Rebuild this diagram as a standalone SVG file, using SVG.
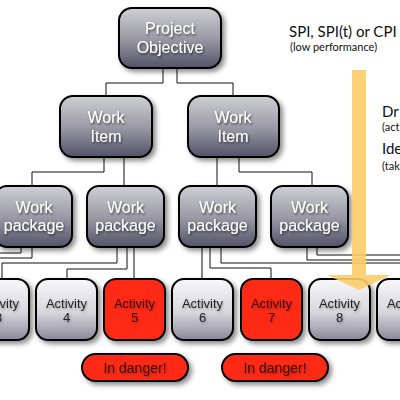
<svg xmlns="http://www.w3.org/2000/svg" width="400" height="400" viewBox="0 0 400 400">
<defs>
<linearGradient id="gDark" x1="0" y1="0" x2="0" y2="1">
<stop offset="0" stop-color="#cfcfd5"/>
<stop offset="0.5" stop-color="#9c9ba6"/>
<stop offset="1" stop-color="#545268"/>
</linearGradient>
<linearGradient id="gLight" x1="0" y1="0" x2="0" y2="1">
<stop offset="0" stop-color="#f8f8fa"/>
<stop offset="0.55" stop-color="#d6d6dc"/>
<stop offset="1" stop-color="#8a8898"/>
</linearGradient>
<filter id="sh" x="-20%" y="-20%" width="150%" height="150%">
<feDropShadow dx="3" dy="3" stdDeviation="2.5" flood-color="#000" flood-opacity="0.45"/>
</filter>
<filter id="tsh" x="-20%" y="-20%" width="140%" height="160%">
<feDropShadow dx="1" dy="1.5" stdDeviation="1" flood-color="#000" flood-opacity="0.6"/>
</filter>
<filter id="tshl" x="-20%" y="-20%" width="140%" height="160%">
<feDropShadow dx="1" dy="1.5" stdDeviation="1" flood-color="#000" flood-opacity="0.3"/>
</filter>
</defs>
<style>
.dark{fill:url(#gDark);stroke:#000;stroke-width:2;filter:url(#sh)}
.light{fill:url(#gLight);stroke:#000;stroke-width:2;filter:url(#sh)}
.red{fill:#ff2b16;stroke:#000;stroke-width:2;filter:url(#sh)}
.wt{font-family:"Liberation Sans",Arial,sans-serif;font-size:16px;fill:#fff;text-anchor:middle;filter:url(#tsh)}
.at{font-family:"Liberation Sans",Arial,sans-serif;font-size:13px;fill:#222;text-anchor:middle;filter:url(#tshl)}
.rt{font-family:"Liberation Sans",Arial,sans-serif;font-size:13px;fill:#3a0a05;text-anchor:middle;filter:url(#tshl)}
.dt{font-family:"Liberation Sans",Arial,sans-serif;font-size:14px;fill:#3a0a05;text-anchor:middle;filter:url(#tshl)}
.big{font-family:Lato,"Open Sans",sans-serif;font-size:15px;fill:#111}
.small{font-family:Lato,"Open Sans",sans-serif;font-size:11px;fill:#111}
.con{fill:none;stroke:#111;stroke-width:1}
</style>
<rect width="400" height="400" fill="#fff"/>
<g id="connectors" class="con">
<path d="M163,68V83H106V96"/>
<path d="M177,68V83H233V96"/>
<path d="M104,157V172H32V186"/>
<path d="M124,157V186"/>
<path d="M217,157V186"/>
<path d="M239,157V172H312V186"/>
<path d="M21,247V253H-10"/>
<path d="M32,247V258H-10"/>
<path d="M117,247V263H2V279"/>
<path d="M127,247V269H67V279"/>
<path d="M134,247V279"/>
<path d="M202,247V279"/>
<path d="M210,247V268H271V279"/>
<path d="M221,247V263H410"/>
<path d="M307,247V260H410"/>
<path d="M317,247V255H410"/>
</g>
<g id="project-objective">
<rect class="dark" x="119" y="8" width="102" height="60" rx="13"/>
<text class="wt" x="170" y="34">Project</text>
<text class="wt" x="170" y="53">Objective</text>
</g>
<g id="work-item-1">
<rect class="dark" x="60" y="96" width="92" height="61" rx="13"/>
<text class="wt" x="106" y="123">Work</text>
<text class="wt" x="106" y="142">Item</text>
</g>
<g id="work-item-2">
<rect class="dark" x="188" y="96" width="91" height="61" rx="13"/>
<text class="wt" x="233" y="123">Work</text>
<text class="wt" x="233" y="142">Item</text>
</g>
<g id="work-package-1">
<rect class="dark" x="-5" y="186" width="77" height="61" rx="12"/>
<text class="wt" x="34" y="213">Work</text>
<text class="wt" x="34" y="231">package</text>
</g>
<g id="work-package-2">
<rect class="dark" x="87" y="186" width="77" height="61" rx="12"/>
<text class="wt" x="125.5" y="213">Work</text>
<text class="wt" x="125.5" y="231">package</text>
</g>
<g id="work-package-3">
<rect class="dark" x="179" y="186" width="77" height="61" rx="12"/>
<text class="wt" x="217.5" y="213">Work</text>
<text class="wt" x="217.5" y="231">package</text>
</g>
<g id="work-package-4">
<rect class="dark" x="271" y="186" width="77" height="61" rx="12"/>
<text class="wt" x="309.5" y="213">Work</text>
<text class="wt" x="309.5" y="231">package</text>
</g>
<g id="activity-3">
<rect class="light" x="-32" y="279" width="61" height="61" rx="12"/>
<text class="at" x="-1.5" y="308">Activity</text>
<text class="at" x="-1.5" y="322">3</text>
</g>
<g id="activity-4">
<rect class="light" x="36" y="279" width="61" height="61" rx="12"/>
<text class="at" x="66.5" y="308">Activity</text>
<text class="at" x="66.5" y="322">4</text>
</g>
<g id="activity-5">
<rect class="red" x="104" y="279" width="61" height="61" rx="12"/>
<text class="rt" x="134.5" y="308">Activity</text>
<text class="rt" x="134.5" y="322">5</text>
</g>
<g id="activity-6">
<rect class="light" x="172" y="279" width="61" height="61" rx="12"/>
<text class="at" x="202.5" y="308">Activity</text>
<text class="at" x="202.5" y="322">6</text>
</g>
<g id="activity-7">
<rect class="red" x="241" y="279" width="61" height="61" rx="12"/>
<text class="rt" x="271.5" y="308">Activity</text>
<text class="rt" x="271.5" y="322">7</text>
</g>
<g id="activity-8">
<rect class="light" x="309" y="279" width="61" height="61" rx="12"/>
<text class="at" x="339.5" y="308">Activity</text>
<text class="at" x="339.5" y="322">8</text>
</g>
<g id="activity-9">
<rect class="light" x="377" y="279" width="61" height="61" rx="12"/>
<text class="at" x="407.5" y="308">Activity</text>
<text class="at" x="407.5" y="322">9</text>
</g>
<g id="danger-1">
<rect class="red" x="82" y="354" width="106" height="27" rx="13.5"/>
<text class="dt" x="135" y="373">In danger!</text>
</g>
<g id="danger-2">
<rect class="red" x="222" y="354" width="106" height="27" rx="13.5"/>
<text class="dt" x="275" y="373">In danger!</text>
</g>
<g id="arrow">
<path d="M352,70H366V275H391L359,290L327,275H352Z" fill="#fbcd68" opacity="0.9"/>
</g>
<g id="labels">
<text class="big" x="289" y="37">SPI, SPI(t) or CPI</text>
<text class="small" x="290" y="51">(low performance)</text>
<text class="big" x="382" y="117">Dr</text>
<text class="small" x="382" y="131">(act</text>
<text class="big" x="382" y="154">Ide</text>
<text class="small" x="382" y="170">(tak</text>
</g>
</svg>
